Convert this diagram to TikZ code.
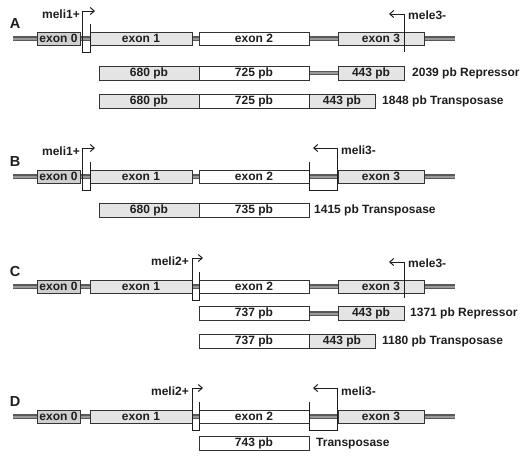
\documentclass[tikz,border=0pt]{standalone}
\usepackage{fontspec}
\setmainfont{Liberation Sans}
\usetikzlibrary{arrows.meta}
\definecolor{ink}{HTML}{1E1E1E}
\definecolor{edge}{HTML}{333333}
\definecolor{darkfill}{HTML}{CFCFCF}
\definecolor{lightfill}{HTML}{E4E4E4}
\tikzset{
  exb/.style={draw=edge, line width=1pt, inner sep=0pt, minimum height=13pt, font=\bfseries\fontsize{12}{13}\selectfont, text=ink},
  rowb/.style={exb, minimum height=14pt},
  dk/.style={fill=darkfill},
  lt/.style={fill=lightfill},
  wh/.style={fill=white},
  bbout/.style={line width=4.2pt, draw=black!65},
  bbin/.style={line width=2pt, draw=black!40},
  marker/.style={draw=ink, line width=1pt},
  markarrow/.style={marker, -{Straight Barb[length=4pt, width=7pt]}},
  lbl/.style={font=\bfseries\fontsize{12}{13}\selectfont, text=ink, inner sep=0pt},
  panel/.style={font=\bfseries\fontsize{14.5}{16}\selectfont, text=ink, inner sep=0pt},
}
\newcommand{\backbone}[3]{%
  \draw[bbout] (#1) -- (#2);
  \draw[bbin] (#1) -- (#2);}
\begin{document}
\begin{tikzpicture}[x=1pt,y=-1pt]
\useasboundingbox (0,0) rectangle (526,469);

% ================= Panel A =================
\node[panel] (pA) at (15,24) {A};
\coordinate (aL) at (13,38.5);
\coordinate (aR) at (455,38.5);
\backbone{aL}{aR}{}
\node[exb,dk,minimum width=43pt] (a0) at (58.5,38.5) {exon 0};
\node[exb,lt,minimum width=102pt] (a1) at (141,38.5) {exon 1};
\node[exb,wh,minimum width=110pt] (a2) at (254,38.5) {exon 2};
\node[exb,lt,minimum width=86pt] (a3) at (381,38.5) {exon 3};
% meli1+
\coordinate (am1) at (90,24);
\coordinate (am2) at (95,11);
\draw[markarrow] (am1) -- (90,52) -- (82,52) -- (82,11) -- (am2);
\node[lbl,anchor=east] (amt) at (80,14) {meli1+};
% mele3-
\coordinate (ae1) at (404,52);
\coordinate (ae2) at (389,14);
\draw[markarrow] (ae1) -- (404,14) -- (ae2);
\node[lbl,anchor=west] (aet) at (408,15) {mele3-};
% row 1
\node[rowb,lt,minimum width=100pt] (ar10) at (149,73) {680 pb};
\node[rowb,wh,minimum width=110pt] (ar11) at (254,73) {725 pb};
\node[rowb,lt,minimum width=66pt] (ar12) at (371,73) {443 pb};
\backbone{ar11.east}{ar12.west}{}
\node[lbl,anchor=west] (ar1t) at (412,73) {2039 pb Repressor};
% row 2
\node[rowb,lt,minimum width=100pt] (ar20) at (149,101) {680 pb};
\node[rowb,wh,minimum width=110pt] (ar21) at (254,101) {725 pb};
\node[rowb,lt,minimum width=66pt] (ar22) at (342,101) {443 pb};
\node[lbl,anchor=west] (ar2t) at (382,101) {1848 pb Transposase};

% ================= Panel B =================
\node[panel] (pB) at (15,162) {B};
\coordinate (bL) at (13,176.5);
\coordinate (bR) at (455,176.5);
\backbone{bL}{bR}{}
\node[exb,dk,minimum width=43pt] (b0) at (58.5,176.5) {exon 0};
\node[exb,lt,minimum width=102pt] (b1) at (141,176.5) {exon 1};
\node[exb,wh,minimum width=110pt] (b2) at (254,176.5) {exon 2};
\node[exb,lt,minimum width=86pt] (b3) at (381,176.5) {exon 3};
% meli1+
\coordinate (bm1) at (90,162);
\coordinate (bm2) at (95,148);
\draw[markarrow] (bm1) -- (90,190) -- (82,190) -- (82,148) -- (bm2);
\node[lbl,anchor=east] (bmt) at (80,151) {meli1+};
% meli3-
\coordinate (bn1) at (309,162);
\coordinate (bn2) at (313,148);
\draw[markarrow] (bn1) -- (309,190) -- (337,190) -- (337,148) -- (bn2);
\node[lbl,anchor=west] (bnt) at (341,150) {meli3-};
% row
\node[rowb,lt,minimum width=100pt] (br0) at (149,210) {680 pb};
\node[rowb,wh,minimum width=110pt] (br1) at (254,210) {735 pb};
\node[lbl,anchor=west] (brt) at (314,210) {1415 pb Transposase};

% ================= Panel C =================
\node[panel] (pC) at (15,272) {C};
\coordinate (cL) at (13,286.5);
\coordinate (cR) at (455,286.5);
\backbone{cL}{cR}{}
\node[exb,dk,minimum width=43pt] (c0) at (58.5,286.5) {exon 0};
\node[exb,lt,minimum width=102pt] (c1) at (141,286.5) {exon 1};
\node[exb,wh,minimum width=110pt] (c2) at (254,286.5) {exon 2};
\node[exb,lt,minimum width=86pt] (c3) at (381,286.5) {exon 3};
% meli2+
\coordinate (cm1) at (199,272);
\coordinate (cm2) at (203,258);
\draw[markarrow] (cm1) -- (199,300) -- (192,300) -- (192,258) -- (cm2);
\node[lbl,anchor=east] (cmt) at (189,261) {meli2+};
% mele3-
\coordinate (ce1) at (404,298);
\coordinate (ce2) at (389,262);
\draw[markarrow] (ce1) -- (404,262) -- (ce2);
\node[lbl,anchor=west] (cet) at (408,263) {mele3-};
% row 1
\node[rowb,wh,minimum width=110pt] (cr11) at (254,313.5) {737 pb};
\node[rowb,lt,minimum width=66pt] (cr12) at (371,313.5) {443 pb};
\backbone{cr11.east}{cr12.west}{}
\node[lbl,anchor=west] (cr1t) at (410,313.5) {1371 pb Repressor};
% row 2
\node[rowb,wh,minimum width=110pt] (cr21) at (254,341) {737 pb};
\node[rowb,lt,minimum width=66pt] (cr22) at (342,341) {443 pb};
\node[lbl,anchor=west] (cr2t) at (382,341) {1180 pb Transposase};

% ================= Panel D =================
\node[panel] (pD) at (15,402) {D};
\coordinate (dL) at (13,416.5);
\coordinate (dR) at (455,416.5);
\backbone{dL}{dR}{}
\node[exb,dk,minimum width=43pt] (d0) at (58.5,416.5) {exon 0};
\node[exb,lt,minimum width=102pt] (d1) at (141,416.5) {exon 1};
\node[exb,wh,minimum width=110pt] (d2) at (254,416.5) {exon 2};
\node[exb,lt,minimum width=86pt] (d3) at (381,416.5) {exon 3};
% meli2+
\coordinate (dm1) at (199,402);
\coordinate (dm2) at (203,388);
\draw[markarrow] (dm1) -- (199,430) -- (192,430) -- (192,388) -- (dm2);
\node[lbl,anchor=east] (dmt) at (189,391) {meli2+};
% meli3-
\coordinate (dn1) at (309,402);
\coordinate (dn2) at (313,388);
\draw[markarrow] (dn1) -- (309,430) -- (337,430) -- (337,388) -- (dn2);
\node[lbl,anchor=west] (dnt) at (341,391) {meli3-};
% row
\node[rowb,wh,minimum width=110pt] (dr1) at (254,443.5) {743 pb};
\node[lbl,anchor=west] (drt) at (316,443.5) {Transposase};
\end{tikzpicture}
\end{document}
